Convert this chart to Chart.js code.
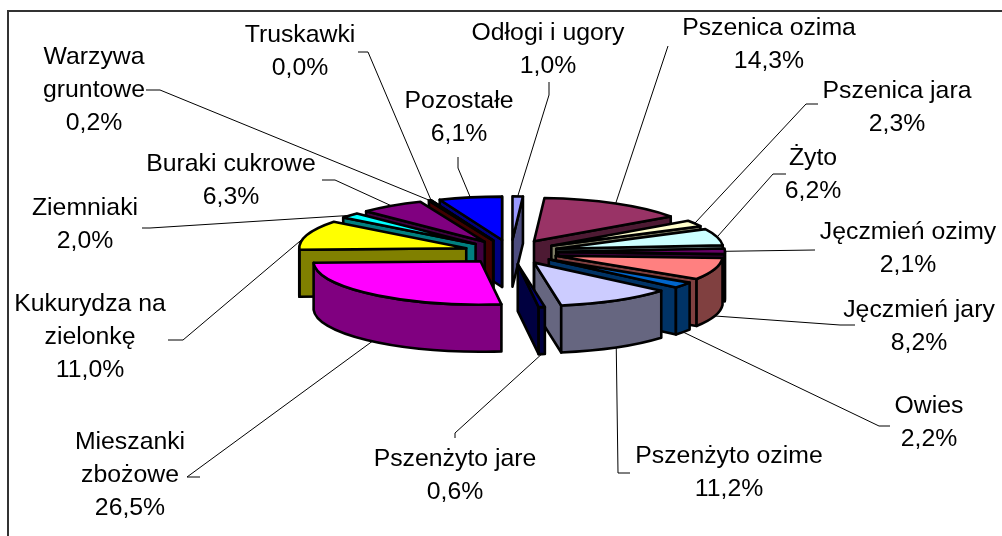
<!DOCTYPE html>
<html>
<head>
<meta charset="utf-8">
<title>Struktura zasiewów</title>
<script src="https://cdn.jsdelivr.net/npm/chart.js@4/dist/chart.umd.min.js"></script>
<style>
  html, body { margin: 0; background: #fff; }
  canvas { display: block; }
</style>
</head>
<body>
<canvas id="wykres" width="1002" height="536"></canvas>
<script>
var categories = ['Odłogi i ugory', 'Pszenica ozima', 'Pszenica jara', 'Żyto', 'Jęczmień ozimy', 'Jęczmień jary', 'Owies', 'Pszenżyto ozime', 'Pszenżyto jare', 'Mieszanki zbożowe', 'Kukurydza na zielonkę', 'Ziemniaki', 'Buraki cukrowe', 'Warzywa gruntowe', 'Truskawki', 'Pozostałe'];
var values = [1.0, 14.3, 2.3, 6.2, 2.1, 8.2, 2.2, 11.2, 0.6, 26.5, 11.0, 2.0, 6.3, 0.2, 0.0, 6.1];
var topColors = ['#9999FF', '#993366', '#FFFFCC', '#CCFFFF', '#660066', '#FF8080', '#0066CC', '#CCCCFF', '#000080', '#FF00FF', '#FFFF00', '#00FFFF', '#800080', '#800000', '#008080', '#0000FF'];
var sideColors = ['#4D4D80', '#4D1A33', '#808066', '#668080', '#330033', '#804040', '#003366', '#666680', '#000040', '#800080', '#808000', '#008080', '#400040', '#400000', '#004040', '#000080'];

// opisy: linie tekstu, srodek x, y pierwszej linii, odstep linii
var labelLines = [['Odłogi i ugory'], ['Pszenica ozima'], ['Pszenica jara'], ['Żyto'], ['Jęczmień ozimy'], ['Jęczmień jary'], ['Owies'], ['Pszenżyto ozime'], ['Pszenżyto jare'], ['Mieszanki', 'zbożowe'], ['Kukurydza na', 'zielonkę'], ['Ziemniaki'], ['Buraki cukrowe'], ['Warzywa', 'gruntowe'], ['Truskawki'], ['Pozostałe']];
var labelX = [548, 769, 897, 813, 908, 919, 929, 729, 455, 130, 90, 85, 231, 94, 300, 459];
var labelY = [33, 28, 91, 158, 232, 310, 406, 456, 459, 442, 304, 208, 164, 57, 35, 101];
// linie odniesienia: poczatek przy opisie, potem zalamanie
var leaderFrom = [[549, 82], [668, 46], [818, 104], [786, 174], [815, 250], [855, 325], [890, 426], [630, 473], [455, 438], [200, 477], [168, 340], [142, 228], [322, 180], [146, 90], [358, 52], [458, 157]];
var leaderBend = [[549, 95], [668, 46], [806, 104], [773, 174], [815, 250], [840, 325], [879, 426], [618, 473], [455, 433], [187, 477], [183, 340], [150, 228], [335, 180], [160, 90], [368, 52], [458, 168]];

var squash = 0.26;
var depth = 47;

function sliceGeometry(arc) {
    var p = arc.getProps(['x', 'y', 'startAngle', 'endAngle', 'outerRadius'], true);
    var mid = (p.startAngle + p.endAngle) / 2;
    var off = arc.options.offset;
    return {
        ax: p.x + Math.cos(mid) * off,
        ay: p.y + Math.sin(mid) * off * squash,
        s: p.startAngle, e: p.endAngle, mid: mid,
        rx: p.outerRadius, ry: p.outerRadius * squash
    };
}

function radialWall(ctx, g, angle) {
    var px = g.ax + Math.cos(angle) * g.rx;
    var py = g.ay + Math.sin(angle) * g.ry;
    ctx.beginPath();
    ctx.moveTo(g.ax, g.ay);
    ctx.lineTo(px, py);
    ctx.lineTo(px, py + depth);
    ctx.lineTo(g.ax, g.ay + depth);
    ctx.closePath();
    ctx.fill();
    ctx.stroke();
}

function drawSlice(ctx, g, top, side) {
    ctx.lineWidth = 2.6;
    ctx.lineJoin = 'round';
    ctx.strokeStyle = '#000';
    ctx.fillStyle = side;
    if (Math.cos(g.s) < 0) radialWall(ctx, g, g.s);
    if (Math.cos(g.e) > 0) radialWall(ctx, g, g.e);
    // zaokraglona scianka, tylko przednia polowa
    var a1 = Math.max(g.s, 0), a2 = Math.min(g.e, Math.PI);
    if (a2 > a1) {
        ctx.beginPath();
        ctx.ellipse(g.ax, g.ay, g.rx, g.ry, 0, a1, a2);
        ctx.ellipse(g.ax, g.ay + depth, g.rx, g.ry, 0, a2, a1, true);
        ctx.closePath();
        ctx.fill();
        ctx.stroke();
    }
    ctx.fillStyle = top;
    ctx.beginPath();
    ctx.moveTo(g.ax, g.ay);
    ctx.ellipse(g.ax, g.ay, g.rx, g.ry, 0, g.s, g.e);
    ctx.closePath();
    ctx.fill();
    ctx.stroke();
}

var pie3d = {
    id: 'pie3d',
    beforeDatasetDraw: function(chart) {
        var ctx = chart.ctx;
        var arcs = chart.getDatasetMeta(0).data;
        var order = arcs.map(function(a, i) { return i; });
        var geo = arcs.map(sliceGeometry);
        order.sort(function(a, b) { return Math.sin(geo[a].mid) - Math.sin(geo[b].mid); });
        ctx.save();
        order.forEach(function(i) { drawSlice(ctx, geo[i], topColors[i], sideColors[i]); });
        ctx.restore();
        return false;
    },
    afterDraw: function(chart) {
        var ctx = chart.ctx;
        var arcs = chart.getDatasetMeta(0).data;
        ctx.save();
        // ramka
        ctx.strokeStyle = '#333';
        ctx.lineWidth = 2;
        ctx.strokeRect(8, 11, 1100, 1000);
        // linie odniesienia
        ctx.strokeStyle = '#000';
        ctx.lineWidth = 1;
        arcs.forEach(function(arc, i) {
            var g = sliceGeometry(arc);
            var ex = g.ax + Math.cos(g.mid) * g.rx;
            var ey = g.ay + Math.sin(g.mid) * g.ry;
            if (Math.sin(g.mid) > 0.3) ey += depth;
            ctx.beginPath();
            ctx.moveTo(leaderFrom[i][0], leaderFrom[i][1]);
            ctx.lineTo(leaderBend[i][0], leaderBend[i][1]);
            ctx.lineTo(ex, ey);
            ctx.stroke();
        });
        // opisy
        ctx.fillStyle = '#000';
        ctx.font = '24.8px "Liberation Sans"';
        ctx.textAlign = 'center';
        ctx.textBaseline = 'middle';
        categories.forEach(function(c, i) {
            var lines = labelLines[i].concat(values[i].toFixed(1).replace('.', ',') + '%');
            lines.forEach(function(t, n) {
                ctx.fillText(t, labelX[i], labelY[i] + n * 33);
            });
        });
        ctx.restore();
    }
};

new Chart(document.getElementById('wykres'), {
    type: 'pie',
    data: {
        labels: categories,
        datasets: [{ data: values, backgroundColor: topColors, borderColor: '#000', borderWidth: 2, offset: 47 }]
    },
    options: {
        responsive: false,
        animation: false,
        radius: 167,
        layout: { padding: { left: 20, bottom: 32 } },
        plugins: { legend: { display: false }, tooltip: { enabled: false } }
    },
    plugins: [pie3d]
});
</script>
</body>
</html>
